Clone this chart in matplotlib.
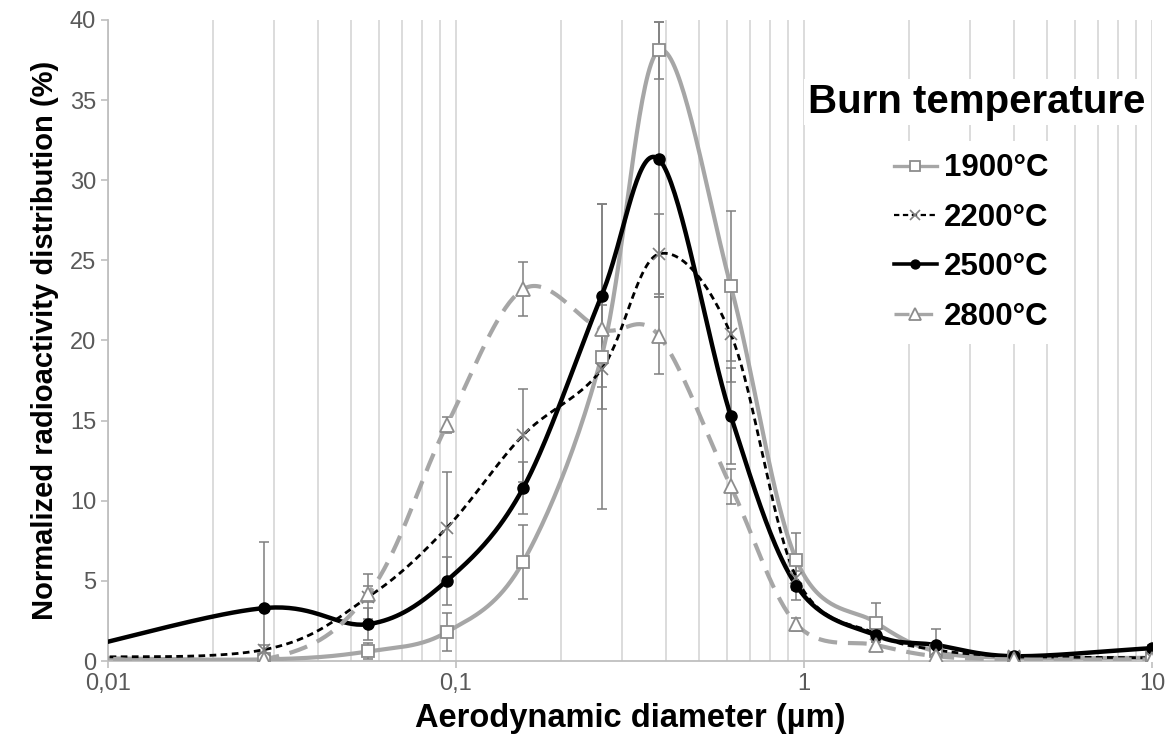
import numpy as np
import matplotlib
matplotlib.use("Agg")
import matplotlib.pyplot as plt
from matplotlib.lines import Line2D
from matplotlib.ticker import FixedLocator, NullFormatter, LogLocator

plt.rcParams['font.family'] = ['Liberation Sans', 'DejaVu Sans']

# stage diameters (um); first point sits left of the visible axis
diam = [0.007, 0.028, 0.056, 0.094, 0.156, 0.262, 0.383, 0.616, 0.951, 1.61, 2.39, 4.01, 9.97]

t1900 = [0.2, 0.1, 0.6, 1.8, 6.2, 19.0, 38.1, 23.4, 6.3, 2.4, 0.6, 0.2, 0.2]
t2200 = [0.2, 0.7, 4.0, 8.3, 14.1, 18.2, 25.4, 20.4, 5.2, 1.7, 0.7, 0.3, 0.2]
t2500 = [0.4, 3.3, 2.3, 5.0, 10.8, 22.8, 31.3, 15.3, 4.7, 1.6, 1.0, 0.3, 0.8]
t2800 = [0.3, 0.1, 4.2, 14.7, 23.2, 20.7, 20.3, 10.9, 2.3, 1.0, 0.3, 0.1, 0.1]

e1900 = [0, 0.3, 0.5, 1.2, 2.3, 9.5, 1.8, 4.7, 1.7, 1.2, 0.4, 0.1, 0.1]
e2200 = [0, 0.3, 1.4, 3.5, 2.9, 2.5, 2.5, 3.0, 0.8, 0.4, 0.3, 0.1, 0.1]
e2500 = [0, 4.1, 1.0, 1.5, 1.6, 5.7, 8.6, 3.0, 0.9, 0.4, 1.0, 0.2, 0.2]
e2800 = [0, 0.2, 0.5, 0.5, 1.7, 1.5, 2.4, 1.1, 0.4, 0.3, 0.2, 0.1, 0.1]

labels = ["1900°C", "2200°C", "2500°C", "2800°C"]


def smooth(xs, ys, n=40):
    # Excel-like smoothed line: uniform Catmull-Rom in (log x, y)
    u = np.log10(xs)
    v = np.array(ys, dtype=float)
    pu = np.concatenate([[2 * u[0] - u[1]], u, [2 * u[-1] - u[-2]]])
    pv = np.concatenate([[2 * v[0] - v[1]], v, [2 * v[-1] - v[-2]]])
    ou, ov = [], []
    t = np.linspace(0, 1, n)
    for i in range(1, len(pu) - 2):
        for arr, out in ((pu, ou), (pv, ov)):
            p0, p1, p2, p3 = arr[i - 1], arr[i], arr[i + 1], arr[i + 2]
            out.extend(0.5 * ((2 * p1) + (-p0 + p2) * t
                              + (2 * p0 - 5 * p1 + 4 * p2 - p3) * t ** 2
                              + (-p0 + 3 * p1 - 3 * p2 + p3) * t ** 3))
    return 10 ** np.array(ou), np.array(ov)


fig = plt.figure(figsize=(11.75, 7.49), dpi=100)
ax = fig.add_axes([108 / 1175, 88 / 749, (1152 - 108) / 1175, (661 - 20) / 749])

grey = "#a6a6a6"
styles = [
    dict(color=grey, lw=3, ls="-", marker="s", mfc="white", mec="#8c8c8c", ms=9, mew=1.3),
    dict(color="black", lw=2, ls=(0, (2.4, 1.6)), marker="x", mfc="none", mec="#7f7f7f", ms=9, mew=1.2),
    dict(color="black", lw=3.2, ls="-", marker="o", mfc="black", mec="black", ms=8, mew=1),
    dict(color=grey, lw=3, ls=(0, (4.5, 2.6)), marker="^", mfc="white", mec="#8c8c8c", ms=10, mew=1.3),
]

handles = []
for ys, es, st, lab in zip([t1900, t2200, t2500, t2800], [e1900, e2200, e2500, e2800], styles, labels):
    ax.errorbar(diam, ys, yerr=es, fmt="none", ecolor="#7f7f7f", elinewidth=1.1, capsize=3.5, capthick=1.1, zorder=2)
    sx, sy = smooth(diam, ys)
    ax.plot(sx, sy, color=st["color"], lw=st["lw"], ls=st["ls"], zorder=3)
    ax.plot(diam, ys, ls="none", marker=st["marker"], mfc=st["mfc"], mec=st["mec"], ms=st["ms"], mew=st["mew"], zorder=4)
    handles.append(Line2D([], [], color=st["color"], lw=st["lw"] * 0.8, ls=st["ls"], marker=st["marker"],
                          mfc=st["mfc"], mec=st["mec"], ms=st["ms"] * 0.8, mew=st["mew"]))

ax.set_xscale("log")
ax.set_xlim(0.01, 10)
ax.set_ylim(0, 40)
ax.xaxis.set_major_locator(FixedLocator([0.01, 0.1, 1, 10]))
ax.set_xticklabels(["0,01", "0,1", "1", "10"])
ax.xaxis.set_minor_locator(LogLocator(base=10, subs=np.arange(2, 10)))
ax.xaxis.set_minor_formatter(NullFormatter())
ax.set_yticks(np.arange(0, 41, 5))
ax.grid(True, axis="x", which="both", color="#d9d9d9", lw=1.3)
ax.set_axisbelow(True)

for s in ["top", "right"]:
    ax.spines[s].set_visible(False)
for s in ["left", "bottom"]:
    ax.spines[s].set_color("#bfbfbf")
    ax.spines[s].set_linewidth(1.3)
ax.tick_params(axis="both", which="major", labelsize=17, colors="#595959", length=5, width=1.2, direction="out")
ax.tick_params(axis="x", which="minor", length=0)
ax.tick_params(axis="both", which="major", color="#bfbfbf")

ax.set_xlabel("Aerodynamic diameter (µm)", fontsize=23.5, fontweight="bold", labelpad=6)
ax.set_ylabel("Normalized radioactivity distribution (%)", fontsize=21, fontweight="bold", labelpad=8)

leg = fig.legend(handles, labels, loc="center left", bbox_to_anchor=((893 - 12) / 1175, 1 - 242.5 / 749),
                 frameon=True, prop={"size": 22.5, "weight": "bold"}, handlelength=1.4, handletextpad=0.2,
                 labelspacing=0.62, borderpad=0.4, borderaxespad=0)
leg.get_frame().set_facecolor("white")
leg.get_frame().set_edgecolor("none")
leg.get_frame().set_alpha(1)

fig.text(808 / 1175, 1 - 113 / 749, "Burn temperature", fontsize=29, fontweight="bold", va="baseline", ha="left",
         bbox=dict(facecolor="white", edgecolor="none", pad=3))

fig.savefig("out.png", dpi=100)
